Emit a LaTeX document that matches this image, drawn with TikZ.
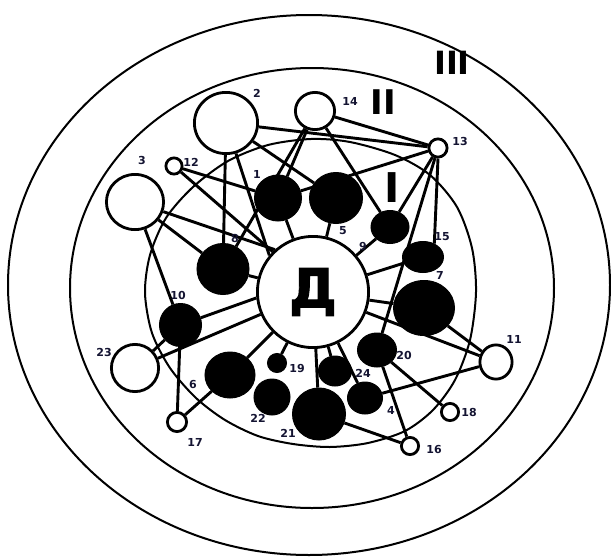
\documentclass[tikz,border=0pt]{standalone}
\usepackage{fontspec}
\setmainfont{DejaVu Sans}
\newfontfamily\heavyfont[FakeBold=1.6]{DejaVu Sans Bold}
\usetikzlibrary{shapes.geometric}
\definecolor{lab}{RGB}{20,20,50}
\pgfdeclarelayer{zones}
\pgfdeclarelayer{edges}
\pgfsetlayers{zones,edges,main}
\begin{document}
\begin{tikzpicture}[x=1pt,y=-1pt,
  ring/.style={line width=2pt},
  edge/.style={line width=2.9pt},
  wn/.style={ellipse, draw=black, fill=white, line width=2.8pt, inner sep=0pt},
  bn/.style={ellipse, draw=black, fill=black, line width=1pt, inner sep=0pt},
  sz/.style 2 args={minimum width=#1pt, minimum height=#2pt},
  lbl/.style={font=\bfseries\fontsize{11}{11}\selectfont, text=lab, inner sep=0pt},
  roman/.style={font=\bfseries\fontsize{#1}{#1}\selectfont, inner sep=0pt}
]
\useasboundingbox (0,0) rectangle (611,557);
\begin{pgfonlayer}{zones}
\fill[white] (0,0) rectangle (611,557);
\draw[ring] (309,285) ellipse [x radius=301, y radius=270];
\draw[ring] (312,288) ellipse [x radius=242, y radius=220];
\draw[ring] plot[smooth cycle] coordinates {
 (311,139) (350,142) (395,155) (430,175) (457,207) (472,248) (476,292)
 (470,340) (455,380) (433,410) (405,431) (368,443) (330,447) (293,444)
 (258,436) (225,420) (196,398) (170,368) (152,333) (145,293) (150,255)
 (166,218) (193,187) (228,161) (268,145)};
\end{pgfonlayer}
% roman numerals
\node[roman=32] (rIII) at (452,63) {III};
\node[roman=34] (rII) at (383,102) {II};
\node[roman=41] (rI) at (392,188) {I};
% white nodes
\node[wn, sz={63.2}{61.2}] (n2) at (226,123) {};
\node[wn, sz={39.2}{37.2}] (n14) at (315,111) {};
\node[wn, sz={18.2}{18.2}] (n13) at (438,148) {};
\node[wn, sz={16.2}{16.2}] (n12) at (174,166) {};
\node[wn, sz={57.2}{55.2}] (n3) at (135,202) {};
\node[wn, sz={47.2}{47.2}] (n23) at (135,368) {};
\node[wn, sz={32.2}{34.2}] (n11) at (496,362) {};
\node[wn, sz={19.2}{19.2}] (n17) at (177,422) {};
\node[wn, sz={17.2}{17.2}] (n18) at (450,412) {};
\node[wn, sz={17.2}{17.2}] (n16) at (410,446) {};
\node[wn, sz={111.2}{111.2}, font=\heavyfont\fontsize{54}{54}\selectfont] (D) at (313,292) {Д};
% black nodes
\node[bn, sz={47}{46}] (n1) at (278,198) {};
\node[bn, sz={53}{51}] (n5) at (336,198) {};
\node[bn, sz={38}{33}] (n9) at (390,227) {};
\node[bn, sz={41}{31}] (n15) at (423,257) {};
\node[bn, sz={61}{55}] (n7) at (424,308) {};
\node[bn, sz={52}{51}] (n8) at (223,269) {};
\node[bn, sz={42}{43}] (n10) at (180.5,325) {};
\node[bn, sz={50}{46}] (n6) at (230,375) {};
\node[bn, sz={19}{19}] (n19) at (277,363) {};
\node[bn, sz={36}{36}] (n22) at (272,397) {};
\node[bn, sz={53}{52}] (n21) at (319,414) {};
\node[bn, sz={33}{30}] (n24) at (335,371) {};
\node[bn, sz={35}{32}] (n4) at (365,398) {};
\node[bn, sz={39}{34}] (n20) at (377,350) {};
% edges (behind nodes)
\begin{pgfonlayer}{edges}
\foreach \a/\b in {n2/n8, n2/n13, n2/n5, n14/n13, n14/n9, n14/n8, n14/n1,
  n13/n1, n13/n9, n13/n20, n12/n1, n3/n8, n3/n10,
  n1/D, n5/D, n9/D, n15/D, n7/D, n8/D, n23/D, n6/D, n19/D, n21/D, n24/D, n4/D, D/n11,
  n7/n11, n4/n11, n20/n18, n20/n16, n21/n16, n10/n17, n6/n17, n10/n23}
  {\draw[edge] (\a) -- (\b);}
\draw[edge] (n2) -- (D.140);
\draw[edge] (n12) -- (D.135);
\draw[edge] (n3) -- (D.132);
\draw[edge] (n10) -- (D.186);
\draw[edge] (n13.south) -- (n15.50);
\end{pgfonlayer}
% labels
\node[lbl] (l2) at (257,93) {2};
\node[lbl] (l14) at (350,101) {14};
\node[lbl] (l13) at (460,141) {13};
\node[lbl] (l12) at (191,162) {12};
\node[lbl] (l3) at (142,160) {3};
\node[lbl] (l1) at (257,174) {1};
\node[lbl] (l5) at (343,231) {5};
\node[lbl] (l9) at (363,246) {9};
\node[lbl] (l15) at (442,237) {15};
\node[lbl] (l7) at (440,275) {7};
\node[lbl] (l8) at (235,238) {8};
\node[lbl] (l10) at (178,295) {10};
\node[lbl] (l23) at (104,352) {23};
\node[lbl] (l6) at (193,384) {6};
\node[lbl] (l17) at (195,442) {17};
\node[lbl] (l19) at (297,368) {19};
\node[lbl] (l22) at (258,418) {22};
\node[lbl] (l21) at (288,433) {21};
\node[lbl] (l24) at (363,373) {24};
\node[lbl] (l4) at (391,410) {4};
\node[lbl] (l20) at (404,355) {20};
\node[lbl] (l11) at (514,339) {11};
\node[lbl] (l18) at (469,412) {18};
\node[lbl] (l16) at (434,449) {16};
\end{tikzpicture}
\end{document}
